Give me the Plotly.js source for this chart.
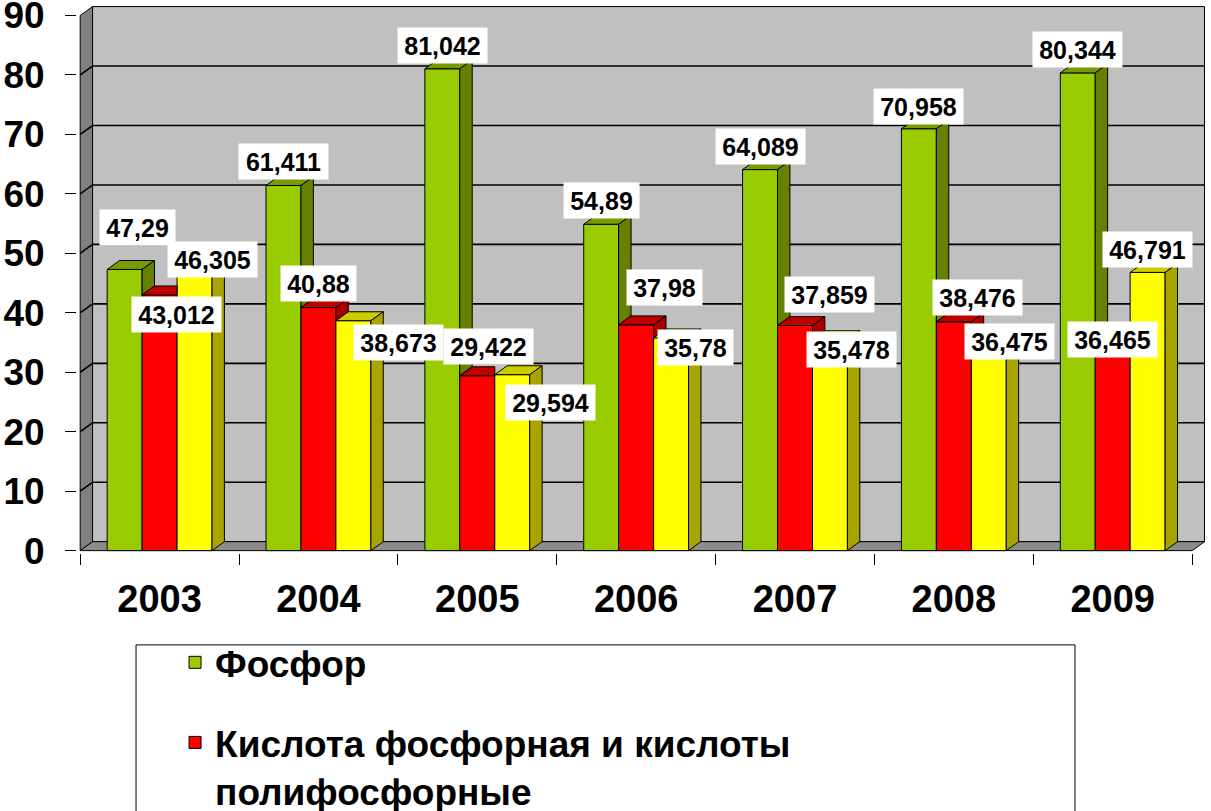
<!DOCTYPE html>
<html>
<head>
<meta charset="utf-8">
<script src="https://cdn.plot.ly/plotly-3.0.1.min.js"></script>
<style>
  body { margin: 0; background: #fff; }
  #plot { width: 1211px; height: 811px; }
</style>
</head>
<body>
<div id="plot"></div>
<script>
// categories and series
var years = ["2003", "2004", "2005", "2006", "2007", "2008", "2009"];
var phosphorus = [47.29, 61.411, 81.042, 54.89, 64.089, 70.958, 80.344];
var acid = [43.012, 40.88, 29.422, 37.98, 37.859, 38.476, 36.465];
var third = [46.305, 38.673, 29.594, 35.78, 35.478, 36.475, 46.791];
var yTicks = [0, 10, 20, 30, 40, 50, 60, 70, 80, 90];

// fake 3d depth (data units) and bar geometry
var DX = 0.078, DY = 1.5;
var W = 0.22;
var FONT = "Liberation Sans, Arial, sans-serif";

// label offsets in px from the bar top (Excel placed them by hand)
var labelShift = [
  { xs: [13, 0, 0, 0, 0, 0, 0], ys: [42, 24, 23, 24, 23, 22, 23] },
  { xs: [17, 0, 11, 28, 35, 24, 0], ys: [-20, 24, 29, 37, 31, 24, -6] },
  { xs: [18, 45, 38, 24, 22, 21, 0], ys: [16, -22, -28, -10, -10, -8, 23] }
];

var series = [
  { name: "Фосфор", vals: phosphorus, off: -0.33, front: "#99CC00", top: "#779C00", side: "#668000" },
  { name: "Кислота фосфорная и кислоты<br>полифосфорные", vals: acid, off: -0.11, front: "#FF0000", top: "#C00000", side: "#A80000" },
  { name: "Ряд3", vals: third, off: 0.11, front: "#FFFF00", top: "#CCCC00", side: "#A8A400" }
];

var xs = years.map(function (y, i) { return i; });

var data = [];
var faces = [];
var annotations = [];

series.forEach(function (s, k) {
  data.push({
    type: "bar",
    name: s.name,
    x: xs,
    y: s.vals,
    offset: s.off,
    width: W,
    marker: { color: s.front, line: { color: "#000", width: 1 } },
    legendgroup: "g" + k,
    hoverinfo: "y"
  });

  var next = series[k + 1] ? series[k + 1].vals : null;
  var top = { x: [], y: [] }, side = { x: [], y: [] };
  s.vals.forEach(function (v, i) {
    var x0 = i + s.off, x1 = x0 + W;
    var nv = next ? next[i] : 0;
    if (v > nv) {
      top.x.push(x0, x0 + DX, x1 + DX, x1, x0, null);
      top.y.push(v, v + DY, v + DY, v, v, null);
      side.x.push(x1, x1 + DX, x1 + DX, x1, x1, null);
      side.y.push(nv, nv + DY, v + DY, v, nv, null);
    } else {
      top.x.push(x0, x0 + DX, x1, x1, x0, null);
      top.y.push(v, v + DY, v + DY, v, v, null);
    }

    var txt = String(v).replace(".", ",");
    annotations.push({
      x: x0 + W / 2, y: v, xref: "x", yref: "y",
      xshift: labelShift[k].xs[i], yshift: labelShift[k].ys[i],
      text: txt, showarrow: false,
      bgcolor: "#fff", borderpad: 4,
      width: 14 * (txt.length - 1) + 11, height: 27,
      font: { family: FONT, size: 25, weight: "bold", color: "#000" }
    });
  });

  [[top, s.top], [side, s.side]].forEach(function (f) {
    if (!f[0].x.length) return;
    faces.push({
      type: "scatter", mode: "lines", x: f[0].x, y: f[0].y,
      fill: "toself", fillcolor: f[1],
      line: { color: "#000", width: 1 },
      showlegend: false, hoverinfo: "skip"
    });
  });
});

data = data.concat(faces);

// walls, floor and back gridlines
var L = -0.5, R = 6.5;
var shapes = [
  { type: "path", layer: "below", xref: "x", yref: "y",
    path: "M" + L + ",0 L" + (L + DX) + "," + DY + " L" + (L + DX) + "," + (90 + DY) + " L" + L + ",90 Z",
    fillcolor: "#808080", line: { color: "#000", width: 1 } },
  { type: "rect", layer: "below", xref: "x", yref: "y",
    x0: L + DX, x1: R + DX, y0: DY, y1: 90 + DY,
    fillcolor: "#C0C0C0", line: { color: "#000", width: 1 } },
  { type: "path", layer: "below", xref: "x", yref: "y",
    path: "M" + L + ",0 L" + R + ",0 L" + (R + DX) + "," + DY + " L" + (L + DX) + "," + DY + " Z",
    fillcolor: "#8C8C8C", line: { color: "#000", width: 1 } }
];
yTicks.slice(1, -1).forEach(function (h) {
  shapes.push({
    type: "path", layer: "below", xref: "x", yref: "y",
    path: "M" + L + "," + h + " L" + (L + DX) + "," + (h + DY) + " L" + (R + DX) + "," + (h + DY),
    line: { color: "#000", width: 1.6 }
  });
});
// legend frame (runs off the bottom like the original)
shapes.push({
  type: "rect", xref: "paper", yref: "paper",
  x0: 0.0522, x1: 0.8824, y0: -0.7, y1: -0.168,
  line: { color: "#000", width: 1 }, fillcolor: "rgba(0,0,0,0)"
});

var bounds = years.map(function (y, i) { return i - 0.5; }).concat([6.5]);

var layout = {
  width: 1211,
  height: 811,
  margin: { l: 77, r: 3, t: 6, b: 258, autoexpand: false },
  paper_bgcolor: "#fff",
  plot_bgcolor: "rgba(0,0,0,0)",
  showlegend: true,
  barmode: "overlay",
  xaxis: {
    type: "linear",
    range: [-0.52, 6.6],
    tickmode: "array", tickvals: xs, ticktext: years,
    ticks: "", showgrid: false, zeroline: false, showline: false,
    ticklabelstandoff: 20,
    ticklabeloverflow: "allow",
    tickfont: { family: FONT, size: 38, weight: "bold", color: "#000" },
    minor: { tickmode: "array", tickvals: bounds, ticks: "outside", ticklen: 11, tickwidth: 1, tickcolor: "#000", showgrid: false }
  },
  yaxis: {
    range: [-0.4, 91.6],
    tickmode: "array", tickvals: yTicks,
    ticks: "outside", ticklen: 11, tickwidth: 1, tickcolor: "#000",
    showgrid: false, zeroline: false, showline: false,
    ticklabelstandoff: 13,
    ticklabeloverflow: "allow",
    tickfont: { family: FONT, size: 37, weight: "bold", color: "#000" }
  },
  legend: {
    x: 0.0867, y: -0.144, xanchor: "left", yanchor: "top",
    bgcolor: "rgba(0,0,0,0)", borderwidth: 0,
    valign: "top", tracegroupgap: 29,
    font: { family: FONT, size: 37, weight: "bold", color: "#000" }
  },
  shapes: shapes,
  annotations: annotations
};

Plotly.newPlot("plot", data, layout, { displayModeBar: false, staticPlot: true });
</script>
</body>
</html>
